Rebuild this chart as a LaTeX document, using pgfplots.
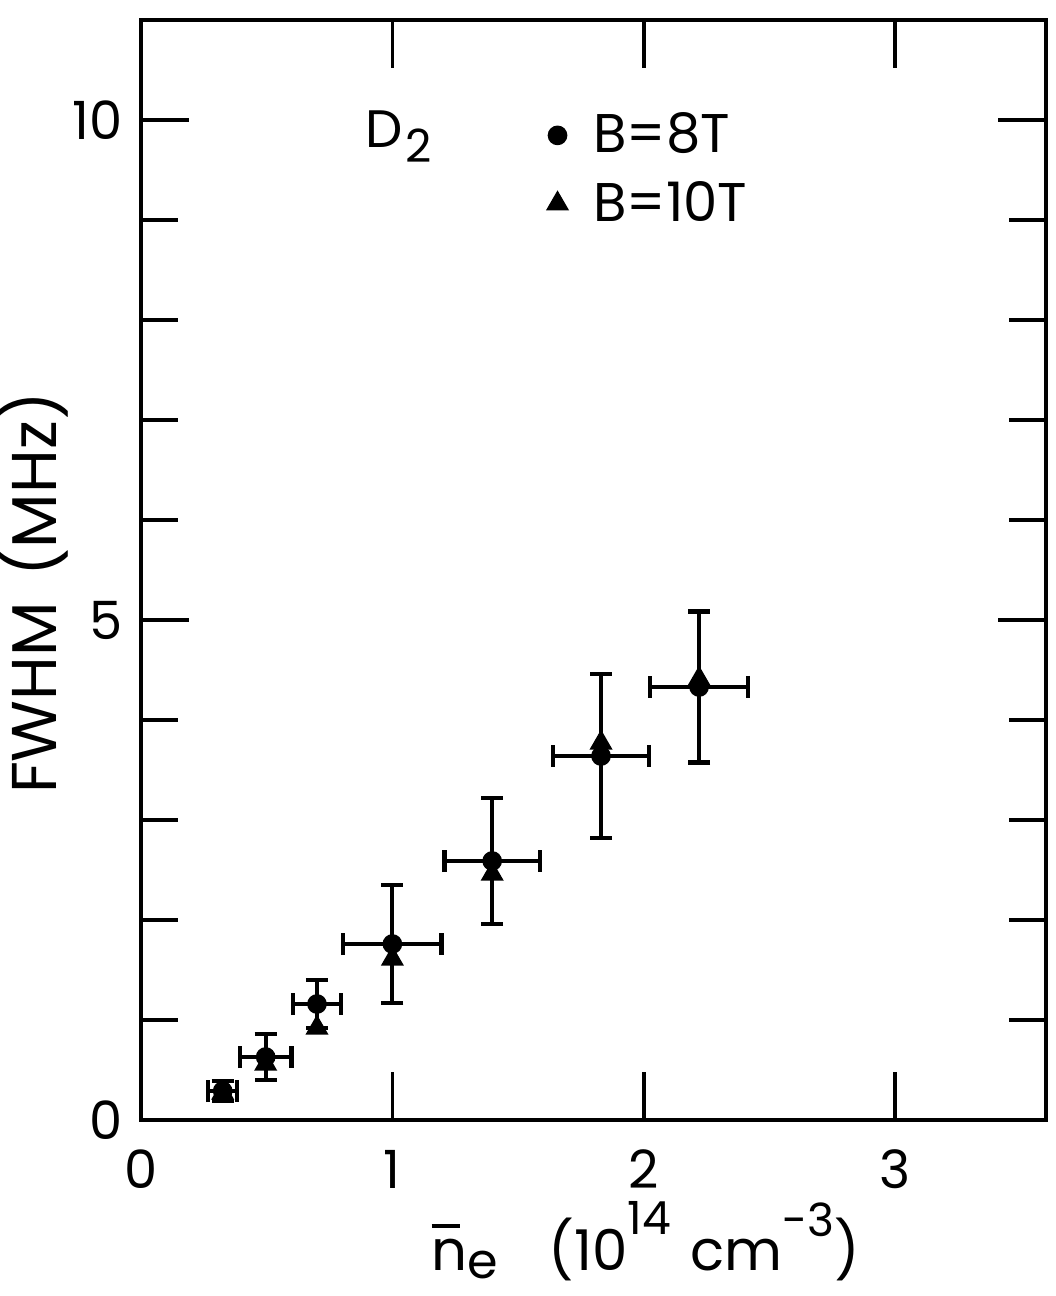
\documentclass[border=0pt]{standalone}
\usepackage{fontspec}
\setmainfont{Poppins}
\usepackage{pgfplots}
\usepackage{pgfplotstable}
\pgfplotsset{compat=1.18}

% B = 8 T (circles) with x and y error bars
\pgfplotstableread{
x     y     ex     ey
0.325 0.29  0.057  0.10
0.496 0.63  0.103  0.23
0.700 1.16  0.095  0.24
1.000 1.76  0.195  0.59
1.397 2.59  0.190  0.63
1.830 3.64  0.190  0.82
2.220 4.33  0.195  0.755
}\beight

% B = 10 T (triangles)
\pgfplotstableread{
x     y
0.325 0.27
0.496 0.56
0.700 0.92
1.000 1.61
1.397 2.46
1.830 3.77
2.220 4.41
}\bten

\begin{document}
\begin{tikzpicture}
\begin{axis}[
  scale only axis, width=9.05cm, height=11.0cm,
  xmin=0, xmax=3.6, ymin=0, ymax=11,
  xtick={0,1,2,3}, ytick={0,5,10}, minor ytick={1,2,3,4,6,7,8,9},
  tick align=inside, major tick length=0.48cm, minor tick length=0.37cm,
  axis line style={line width=1.2pt},
  tick style={line width=1pt, black},
  /pgf/number format/assume math mode=true,
  tick label style={font=\fontsize{15}{18}\selectfont},
  xticklabel style={anchor=base, yshift=-0.68cm},
  yticklabel style={xshift=-0.06cm},
  xlabel={\rlap{\rule[0.75em]{0.5em}{1pt}}n\raisebox{-0.08cm}{\fontsize{14}{16}\selectfont e}\hspace{0.9em}(10\raisebox{0.36cm}{\fontsize{13}{15}\selectfont 14}\hspace{0.35em}cm\raisebox{0.34cm}{\fontsize{13}{15}\selectfont -3})},
  xlabel style={font=\fontsize{16}{19}\selectfont, at={(axis description cs:0.558,0)}, anchor=base, yshift=-1.50cm},
  ylabel={FWHM\hspace{0.4em}(MHz)},
  ylabel style={font=\fontsize{18}{21}\selectfont, at={(axis description cs:-0.120,0.479)}, anchor=center},
  legend image code/.code={\draw[#1] plot coordinates {(0.3cm,0cm)}; \path (0cm,0cm) (0.58cm,0cm);},
  legend style={draw=none, fill=none, at={(axis cs:1.49,10.22)}, anchor=north west,
    font=\fontsize{15.5}{18}\selectfont, cells={anchor=west}, row sep=0.09cm},
  clip=false,
]
\addlegendimage{only marks, mark=*, black, mark size=2.6pt}
\addlegendimage{only marks, mark=triangle*, black, mark size=3.4pt}

\addplot[only marks, mark=triangle*, black, mark size=3.4pt, forget plot] table[x=x, y=y] {\bten};

\addplot[only marks, mark=*, black, mark size=2.6pt, forget plot,
  error bars/.cd, x dir=both, x explicit, y dir=both, y explicit,
  error bar style={line width=1.2pt},
  error mark options={rotate=90, line width=1.2pt, mark size=0.11cm}]
  table[x=x, y=y, x error=ex, y error=ey] {\beight};

\node[anchor=base west, font=\fontsize{15}{18}\selectfont, inner sep=0pt] at (axis cs:0.89,9.72)
  {D\kern0.06em\raisebox{-0.15cm}{\fontsize{13}{15}\selectfont 2}};

\legend{B=8T, B=10T}
\end{axis}
\pgfresetboundingbox
\path[use as bounding box] ([shift={(-1.41cm,-1.76cm)}]current axis.south west) rectangle ([shift={(0.09cm,0.20cm)}]current axis.north east);
\end{tikzpicture}
\end{document}
